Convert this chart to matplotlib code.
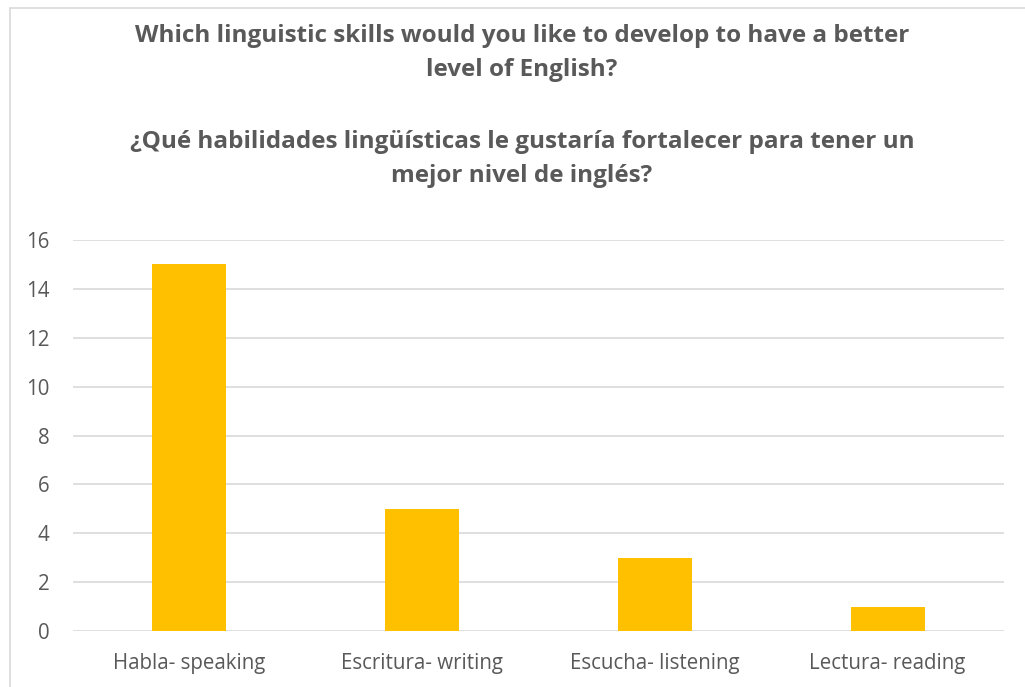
import matplotlib
matplotlib.use("Agg")
import matplotlib.pyplot as plt
from matplotlib.patches import Rectangle

categories = ["Habla- speaking", "Escritura- writing", "Escucha- listening", "Lectura- reading"]
values = [15, 5, 3, 1]
yticks = [0, 2, 4, 6, 8, 10, 12, 14, 16]
title_en = "Which linguistic skills would you like to develop to have a better\nlevel of English?"
title_es = "¿Qué habilidades lingüísticas le gustaría fortalecer para tener un\nmejor nivel de inglés?"

plt.rcParams['font.family'] = ['Open Sans', 'DejaVu Sans']
text_color = "#595959"
grid_color = "#d9d9d9"
bar_color = "#ffc000"

W, H = 1025, 687
fig = plt.figure(figsize=(W / 100, H / 100), dpi=100)

# outer chart border
fig.patches.append(Rectangle((10 / W, -0.1), 1.2, 1 - 8 / H + 0.1, transform=fig.transFigure,
                             fill=False, edgecolor=grid_color, lw=1.2))

ax = fig.add_axes([73 / W, 1 - 631 / H, (1004 - 73) / W, (631 - 240) / H])
x = range(len(categories))
ax.bar(x, values, width=0.318, color=bar_color, zorder=3)
ax.set_xlim(-0.5, len(categories) - 0.5)
ax.set_ylim(0, 16)
ax.set_yticks(yticks)
ax.set_xticks(list(x))
ax.set_xticklabels(categories)
for s in ax.spines.values():
    s.set_visible(False)
ax.grid(axis='y', color=grid_color, lw=1.2, zorder=0)
ax.tick_params(axis='both', length=0, labelsize=14.8, colors=text_color)
ax.tick_params(axis='y', pad=17)
ax.tick_params(axis='x', pad=16)

fig.text(522 / W, 1 - 53 / H, title_en, ha='center', va='center', fontsize=17.5,
         fontweight='bold', color=text_color, linespacing=1.6)
fig.text(522 / W, 1 - 159 / H, title_es, ha='center', va='center', fontsize=17.5,
         fontweight='bold', color=text_color, linespacing=1.6)

fig.savefig("out.png", dpi=100)
